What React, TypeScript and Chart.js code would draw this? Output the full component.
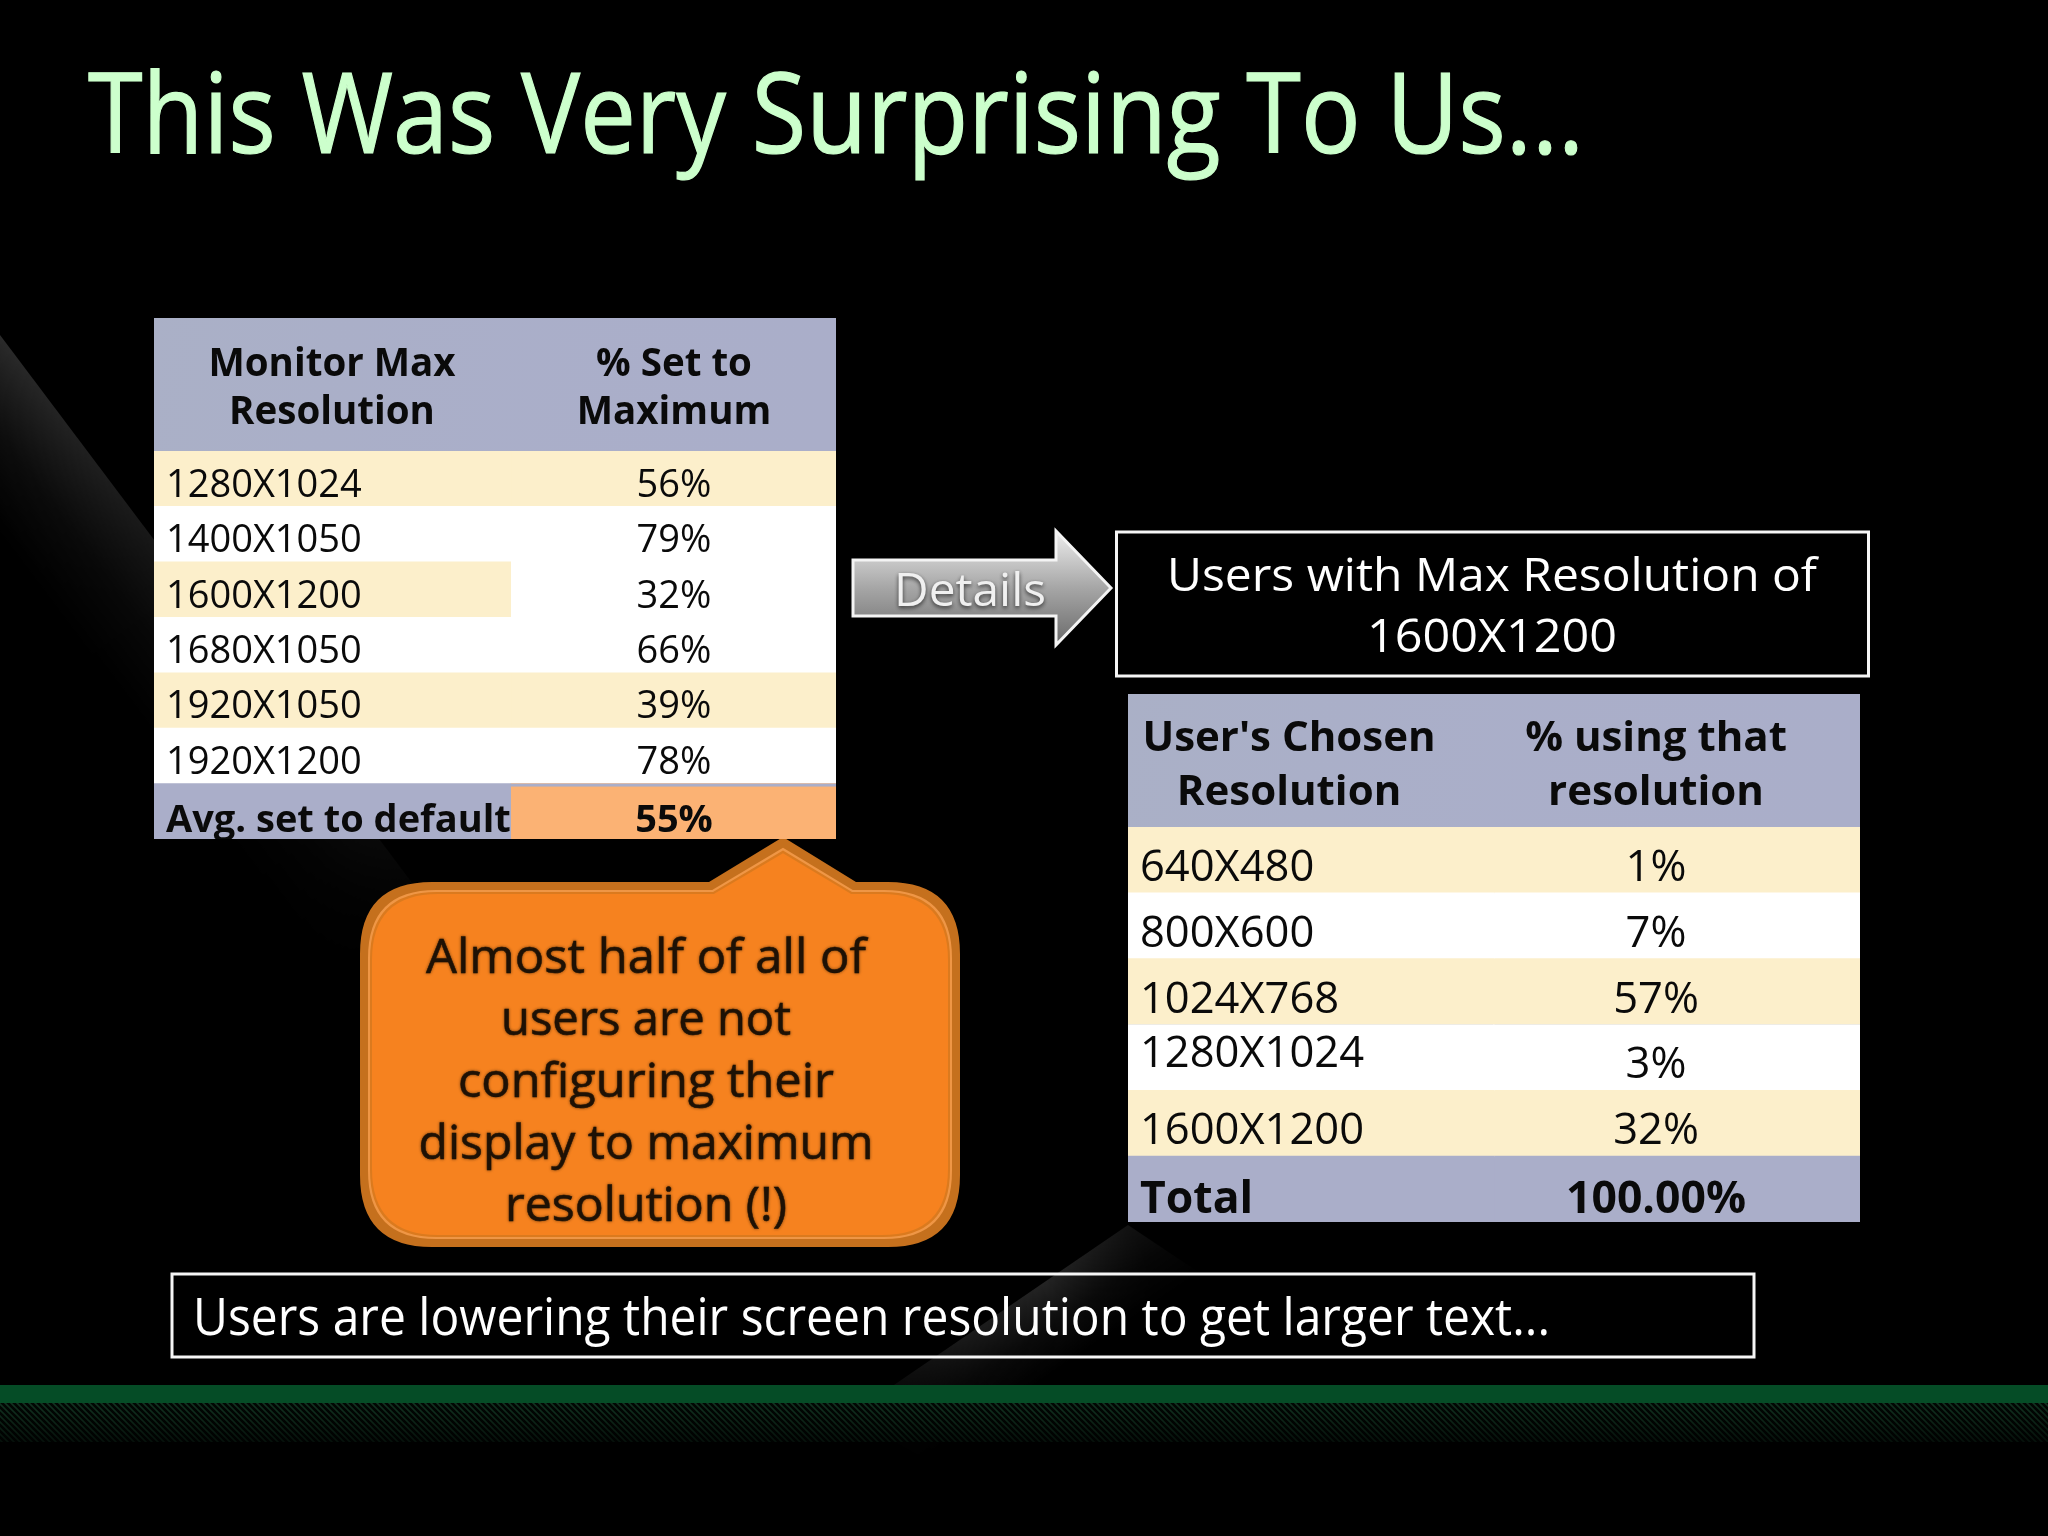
import { useEffect, useRef } from 'react';
import Chart, { ChartConfiguration, Plugin } from 'chart.js/auto';

const FONT = '"Open Sans", "Noto Sans", sans-serif';

// left table: share of users running at the monitor's maximum
const maxResolutions = ['1280X1024', '1400X1050', '1600X1200', '1680X1050', '1920X1050', '1920X1200'];
const setToMaximum = [56, 79, 32, 66, 39, 78];
const avgLabel = 'Avg. set to default';
const avgValue = 55;
const maxHeader = [['Monitor Max', 'Resolution'], ['% Set to', 'Maximum']];

// right table: what the 1600X1200 users picked
const chosenResolutions = ['640X480', '800X600', '1024X768', '1280X1024', '1600X1200'];
const usingThat = [1, 7, 57, 3, 32];
const totalLabel = 'Total';
const totalValue = '100.00%';
const chosenHeader = [["User's Chosen", 'Resolution'], ['% using that', 'resolution']];

const titleText = 'This Was Very Surprising To Us...';
const detailsLines = ['Users with Max Resolution of', '1600X1200'];
const calloutLines = ['Almost half of all of', 'users are not', 'configuring their', 'display to maximum', 'resolution (!)'];
const footerText = 'Users are lowering their screen resolution to get larger text...';

const CREAM = '#FCEFCB';
const WHITE = '#FFFFFF';
const SLATE = '#AAAEC9';
const PEACH = '#FBB274';

function fitText(
  ctx: CanvasRenderingContext2D,
  text: string,
  x: number,
  y: number,
  width: number,
  align: 'left' | 'center' = 'left',
  stroke = 0,
) {
  const measured = ctx.measureText(text).width;
  const sx = width / measured;
  ctx.save();
  ctx.translate(x, y);
  ctx.scale(sx, 1);
  ctx.textAlign = align;
  ctx.textBaseline = 'alphabetic';
  ctx.fillText(text, 0, 0);
  if (stroke) {
    ctx.lineWidth = stroke;
    ctx.strokeStyle = ctx.fillStyle;
    ctx.strokeText(text, 0, 0);
  }
  ctx.restore();
}

// soft light streak: fades away from its sharp edge and along its length
function streak(
  ctx: CanvasRenderingContext2D,
  pts: number[][],
  across: number[],
  along: number[],
  alongStops: number[][],
  alpha: number,
) {
  const layer = document.createElement('canvas');
  layer.width = 2048;
  layer.height = 1536;
  const l = layer.getContext('2d')!;
  const g = l.createLinearGradient(across[0], across[1], across[2], across[3]);
  g.addColorStop(0, `rgba(255,255,255,${alpha})`);
  g.addColorStop(0.5, `rgba(255,255,255,${alpha * 0.35})`);
  g.addColorStop(1, 'rgba(255,255,255,0)');
  l.fillStyle = g;
  l.beginPath();
  pts.forEach((p, i) => (i ? l.lineTo(p[0], p[1]) : l.moveTo(p[0], p[1])));
  l.closePath();
  l.fill();
  const m = l.createLinearGradient(along[0], along[1], along[2], along[3]);
  alongStops.forEach(([at, a]) => m.addColorStop(at, `rgba(0,0,0,${a})`));
  l.globalCompositeOperation = 'destination-in';
  l.fillStyle = m;
  l.fillRect(0, 0, 2048, 1536);
  ctx.drawImage(layer, 0, 0);
}

function calloutPath(ctx: CanvasRenderingContext2D, inset: number) {
  const l = 360 + inset;
  const r = 960 - inset;
  const t = 882 + inset;
  const b = 1247 - inset;
  const rad = 72 - inset * 0.5;
  ctx.beginPath();
  ctx.moveTo(l + rad, t);
  ctx.lineTo(709 + inset * 0.4, t);
  ctx.lineTo(783, 837 + inset * 1.35);
  ctx.lineTo(856 - inset * 0.4, t);
  ctx.lineTo(r - rad, t);
  ctx.quadraticCurveTo(r, t, r, t + rad);
  ctx.lineTo(r, b - rad);
  ctx.quadraticCurveTo(r, b, r - rad, b);
  ctx.lineTo(l + rad, b);
  ctx.quadraticCurveTo(l, b, l, b - rad);
  ctx.lineTo(l, t + rad);
  ctx.quadraticCurveTo(l, t, l + rad, t);
  ctx.closePath();
}

function hatchPattern(ctx: CanvasRenderingContext2D) {
  const tile = document.createElement('canvas');
  tile.width = 6;
  tile.height = 6;
  const t = tile.getContext('2d')!;
  t.fillStyle = '#020603';
  t.fillRect(0, 0, 6, 6);
  t.strokeStyle = '#123321';
  t.lineWidth = 1.6;
  t.beginPath();
  t.moveTo(-1, -1);
  t.lineTo(7, 7);
  t.moveTo(-4, 2);
  t.lineTo(2, 8);
  t.moveTo(2, -4);
  t.lineTo(8, 2);
  t.stroke();
  return ctx.createPattern(tile, 'repeat')!;
}

// everything on the slide that is not a table cell
const slidePlugin: Plugin = {
  id: 'slide',
  beforeDraw(chart) {
    const ctx = chart.ctx;
    ctx.save();
    ctx.fillStyle = '#000';
    ctx.fillRect(0, 0, 2048, 1536);

    streak(
      ctx,
      [[0, 335], [440, 920], [300, 1000], [-100, 460]],
      [190, 588, 94, 660],
      [0, 335, 440, 920],
      [[0, 1], [0.35, 0.55], [0.85, 0.22], [1, 0]],
      0.17,
    );
    streak(
      ctx,
      [[1128, 1225], [850, 1415], [960, 1480], [1240, 1300]],
      [1040, 1285, 1085, 1351],
      [1128, 1225, 850, 1415],
      [[0, 0.5], [0.3, 1], [0.6, 0.7], [1, 0]],
      0.14,
    );

    ctx.fillStyle = '#CCFFCC';
    ctx.font = `111px ${FONT}`;
    fitText(ctx, titleText, 88, 153, 1496, 'left', 1.2);

    // green band and hatched strip along the bottom
    ctx.fillStyle = '#054C26';
    ctx.fillRect(0, 1385, 2048, 18);
    ctx.fillStyle = hatchPattern(ctx);
    ctx.fillRect(0, 1403, 2048, 39);
    const fade = ctx.createLinearGradient(0, 1403, 0, 1446);
    fade.addColorStop(0, 'rgba(0,0,0,0)');
    fade.addColorStop(1, 'rgba(0,0,0,0.75)');
    ctx.fillStyle = fade;
    ctx.fillRect(0, 1403, 2048, 39);

    // details arrow
    const arrow = ctx.createLinearGradient(0, 531, 0, 645);
    arrow.addColorStop(0, '#EDEDED');
    arrow.addColorStop(0.5, '#A6A6A6');
    arrow.addColorStop(1, '#6A6A6A');
    ctx.fillStyle = arrow;
    ctx.strokeStyle = '#F4F4F4';
    ctx.lineWidth = 3;
    ctx.beginPath();
    ctx.moveTo(853, 560);
    ctx.lineTo(1056, 560);
    ctx.lineTo(1056, 531);
    ctx.lineTo(1111, 588);
    ctx.lineTo(1056, 645);
    ctx.lineTo(1056, 616);
    ctx.lineTo(853, 616);
    ctx.closePath();
    ctx.fill();
    ctx.stroke();
    ctx.save();
    ctx.shadowColor = 'rgba(40,40,40,0.9)';
    ctx.shadowBlur = 4;
    ctx.shadowOffsetY = 2;
    ctx.fillStyle = '#F0F0F0';
    ctx.font = `46px ${FONT}`;
    fitText(ctx, 'Details', 970, 606, 152, 'center');
    ctx.restore();

    // outlined text boxes
    ctx.strokeStyle = '#F6F6F6';
    ctx.lineWidth = 3;
    ctx.strokeRect(1116.5, 532, 752, 144);
    ctx.strokeRect(172, 1274, 1582, 83);
    ctx.fillStyle = '#FFFFFF';
    ctx.font = `46px ${FONT}`;
    fitText(ctx, detailsLines[0], 1492, 591, 650, 'center');
    fitText(ctx, detailsLines[1], 1492, 652, 250, 'center');
    ctx.font = `51px ${FONT}`;
    fitText(ctx, footerText, 193, 1335, 1357);

    // callout
    calloutPath(ctx, 0);
    ctx.fillStyle = '#C5701D';
    ctx.fill();
    calloutPath(ctx, 8);
    ctx.fillStyle = '#EF9645';
    ctx.fill();
    calloutPath(ctx, 10);
    ctx.fillStyle = '#DB7A1E';
    ctx.fill();
    calloutPath(ctx, 12);
    ctx.fillStyle = '#F6821F';
    ctx.fill();
    ctx.save();
    ctx.shadowColor = 'rgba(40,20,0,0.6)';
    ctx.shadowBlur = 3;
    ctx.fillStyle = '#1E1206';
    ctx.font = `47px ${FONT}`;
    const widths = [440, 290, 376, 455, 282];
    const baselines = [973, 1035, 1097, 1159, 1221];
    calloutLines.forEach((line, i) => fitText(ctx, line, 646, baselines[i], widths[i], 'center', 0.5));
    ctx.restore();

    ctx.restore();
  },
};

interface TableProps {
  left: number;
  top: number;
  width: number;
  height: number;
  headerHeight: number;
  header: string[][];
  headerBaselines: number[];
  headerCenters: number[];
  headerFont: number;
  rows: string[];
  values: string[];
  fills: string[];
  splitFills?: string[];
  split: number;
  labelX: number;
  valueX: number;
  font: number;
  totalFont: number;
  baselineOffset: number;
  totalOffset: number;
  labelNudge?: Record<number, number>;
}

function TableChart(p: TableProps) {
  const canvasRef = useRef<HTMLCanvasElement | null>(null);

  useEffect(() => {
    if (!canvasRef.current) return;
    const last = p.rows.length - 1;

    const cellText: Plugin = {
      id: 'cellText',
      afterDatasetsDraw(chart) {
        const { ctx, scales } = chart;
        const y = scales.y;
        const x = scales.x;
        const put = (text: string, tx: number, by: number, align: 'left' | 'center') => {
          ctx.textAlign = align;
          ctx.textBaseline = 'alphabetic';
          ctx.fillText(text, tx, by);
        };
        ctx.save();
        ctx.fillStyle = SLATE;
        ctx.fillRect(0, 0, p.width, p.headerHeight);
        const hg = ctx.createLinearGradient(0, 0, p.width, p.headerHeight);
        hg.addColorStop(0, 'rgba(170,178,196,0.5)');
        hg.addColorStop(1, 'rgba(170,174,205,0)');
        ctx.fillStyle = hg;
        ctx.fillRect(0, 0, p.width, p.headerHeight);
        if (p.splitFills) {
          // the peach cell sits a little lower than its row
          const rowTop = (y.getPixelForValue(last - 1) + y.getPixelForValue(last)) / 2;
          ctx.fillStyle = SLATE;
          ctx.fillRect(x.getPixelForValue(p.split), rowTop, p.width, 3);
        }
        ctx.fillStyle = '#0A0A0A';
        ctx.font = `bold ${p.headerFont}px ${FONT}`;
        p.header.forEach((lines, c) =>
          lines.forEach((line, r) => put(line, p.headerCenters[c] - p.left, p.headerBaselines[r] - p.top, 'center')),
        );
        p.rows.forEach((label, i) => {
          const isTotal = i === last;
          const by = y.getPixelForValue(i) + p.baselineOffset + (isTotal ? p.totalOffset : 0);
          ctx.font = `${isTotal ? 'bold ' : ''}${isTotal ? p.totalFont : p.font}px ${FONT}`;
          put(label, p.labelX - p.left, by + (p.labelNudge?.[i] ?? 0), 'left');
          put(p.values[i], p.valueX - p.left, by, 'center');
        });
        ctx.restore();
      },
    };

    const config: ChartConfiguration = {
      type: 'bar',
      data: {
        labels: p.rows,
        datasets: [
          {
            data: p.rows.map(() => [0, p.split]) as any,
            backgroundColor: p.fills,
          },
          {
            data: p.rows.map(() => [p.split, 1]) as any,
            backgroundColor: p.splitFills ?? p.fills,
          },
        ],
      },
      options: {
        indexAxis: 'y',
        animation: false,
        responsive: false,
        devicePixelRatio: 1,
        layout: { padding: { top: p.headerHeight } },
        datasets: { bar: { categoryPercentage: 1, barPercentage: 1, grouped: false, borderSkipped: false } },
        plugins: { legend: { display: false }, title: { display: false }, tooltip: { enabled: false } },
        scales: {
          x: { display: false, min: 0, max: 1 },
          y: { display: false },
        },
      },
      plugins: [cellText],
    };
    const chart = new Chart(canvasRef.current, config);
    return () => chart.destroy();
  }, []);

  return (
    <canvas
      ref={canvasRef}
      width={p.width}
      height={p.height}
      style={{ position: 'absolute', left: p.left, top: p.top, width: p.width, height: p.height }}
    />
  );
}

function SlideBackground() {
  const canvasRef = useRef<HTMLCanvasElement | null>(null);

  useEffect(() => {
    if (!canvasRef.current) return;
    const chart = new Chart(canvasRef.current, {
      type: 'bar',
      data: { labels: [], datasets: [] },
      options: {
        animation: false,
        responsive: false,
        devicePixelRatio: 1,
        plugins: { legend: { display: false }, tooltip: { enabled: false } },
        scales: { x: { display: false }, y: { display: false } },
      },
      plugins: [slidePlugin],
    });
    return () => chart.destroy();
  }, []);

  return <canvas ref={canvasRef} width={2048} height={1536} style={{ position: 'absolute', left: 0, top: 0 }} />;
}

export default function App() {
  useEffect(() => {
    document.body.style.margin = '0';
    document.body.style.background = '#000';
  }, []);

  const maxFills = [CREAM, WHITE, CREAM, WHITE, CREAM, WHITE, SLATE];
  const maxValueFills = [CREAM, WHITE, WHITE, WHITE, CREAM, WHITE, PEACH];
  const chosenFills = [CREAM, WHITE, CREAM, WHITE, CREAM, SLATE];

  return (
    <div style={{ position: 'absolute', left: 0, top: 0, width: 2048, height: 1536, overflow: 'hidden', background: '#000' }}>
      <SlideBackground />
      <TableChart
        left={154}
        top={318}
        width={682}
        height={521}
        headerHeight={133}
        header={maxHeader}
        headerBaselines={[376, 424]}
        headerCenters={[332, 674]}
        headerFont={38.5}
        rows={[...maxResolutions, avgLabel]}
        values={[...setToMaximum.map((v) => `${v}%`), `${avgValue}%`]}
        fills={maxFills}
        splitFills={maxValueFills}
        split={0.523}
        labelX={166}
        valueX={674}
        font={38}
        totalFont={38}
        baselineOffset={18}
        totalOffset={3}
      />
      <TableChart
        left={1128}
        top={694}
        width={732}
        height={528}
        headerHeight={133}
        header={chosenHeader}
        headerBaselines={[751, 805]}
        headerCenters={[1289, 1656]}
        headerFont={42}
        rows={[...chosenResolutions, totalLabel]}
        values={[...usingThat.map((v) => `${v}%`), totalValue]}
        fills={chosenFills}
        split={0.5}
        labelX={1140}
        valueX={1656}
        font={43.5}
        totalFont={44.5}
        baselineOffset={21}
        totalOffset={3}
        labelNudge={{ 3: -11 }}
      />
    </div>
  );
}
